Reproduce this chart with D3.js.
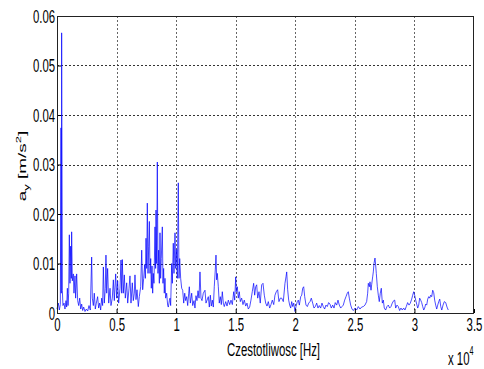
<!DOCTYPE html>
<html>
<head>
<meta charset="utf-8">
<script src="https://cdn.jsdelivr.net/npm/d3@7"></script>
<style>
  html, body { margin: 0; padding: 0; background: #fff; }
  svg { display: block; }
  text { font-family: "Liberation Sans", Arial, sans-serif; fill: #000; }
</style>
</head>
<body>
<script>
// spectrum: frequency [Hz] and amplitude a_y [m/s^2]
const freqHz = [
  0, 110, 195, 280, 335, 360, 390, 450, 500, 590, 670, 755, 810, 870, 925, 980, 1035, 1090, 1145, 1200,
  1230, 1285, 1370, 1425, 1510, 1565, 1650, 1735, 1820, 1905, 1990, 2070, 2155, 2240, 2350, 2460, 2575, 2685, 2795, 2910,
  2965, 3050, 3130, 3215, 3300, 3410, 3495, 3580, 3665, 3750, 3830, 3890, 3970, 4055, 4110, 4170, 4250, 4340, 4450, 4530,
  4640, 4730, 4810, 4925, 5010, 5090, 5175, 5290, 5370, 5430, 5480, 5565, 5650, 5735, 5850, 5935, 6045, 6125, 6210, 6320,
  6405, 6490, 6545, 6630, 6715, 6825, 6910, 7025, 7110, 7190, 7275, 7360, 7415, 7470, 7530, 7580, 7640, 7695, 7750, 7805,
  7865, 7915, 7975, 8030, 8080, 8140, 8225, 8280, 8310, 8365, 8420, 8475, 8530, 8590, 8645, 8700, 8755, 8840, 8895, 8950,
  9005, 9065, 9120, 9205, 9290, 9345, 9430, 9485, 9540, 9625, 9680, 9760, 9820, 9905, 9960, 10045, 10100, 10180, 10240, 10300,
  10380, 10465, 10550, 10635, 10720, 10800, 10885, 10970, 11055, 11105, 11190, 11305, 11390, 11500, 11580, 11665, 11750, 11835, 11920, 12000,
  12085, 12170, 12280, 12420, 12505, 12700, 12785, 12870, 12950, 13035, 13120, 13200, 13285, 13345, 13400, 13455, 13540, 13620, 13705, 13790,
  13875, 13960, 14040, 14160, 14270, 14380, 14495, 14605, 14715, 14830, 14915, 15000, 15050, 15135, 15215, 15300, 15385, 15500, 15610, 15720,
  15840, 15945, 16055, 16170, 16280, 16390, 16505, 16590, 16675, 16760, 16845, 16955, 17060, 17180, 17290, 17400, 17515, 17625, 17735, 17850,
  17960, 18070, 18190, 18295, 18405, 18520, 18630, 18740, 18860, 18995, 19135, 19220, 19280, 19360, 19445, 19530, 19615, 19700, 19785, 19870,
  19975, 20060, 20170, 20255, 20340, 20455, 20540, 20620, 20705, 20790, 20900, 21010, 21125, 21235, 21345, 21460, 21570, 21680, 21795, 21905,
  22015, 22130, 22240, 22350, 22465, 22575, 22685, 22800, 22910, 23020, 23140, 23250, 23355, 23475, 23585, 23695, 23810, 23920, 24030, 24145,
  24255, 24365, 24450, 24535, 24650, 24760, 24870, 25010, 25150, 25290, 25430, 25570, 25710, 25850, 25990, 26075, 26130, 26215, 26270, 26355,
  26410, 26495, 26550, 26605, 26690, 26745, 26800, 26885, 26970, 27050, 27135, 27220, 27305, 27390, 27470, 27585, 27695, 27805, 27920, 28030,
  28140, 28260, 28345, 28425, 28535, 28645, 28760, 28870, 28980, 29100, 29205, 29315, 29430, 29545, 29655, 29770, 29855, 29940, 30020, 30105,
  30190, 30275, 30360, 30440, 30525, 30610, 30695, 30780, 30860, 30945, 31030, 31115, 31200, 31280, 31365, 31450, 31535, 31620, 31700, 31785,
  31870, 31955, 32040, 32125, 32210, 32295, 32400, 32510, 32625, 32735, 32840
]
const accel = [
  0.0008, 0.0020, 0.0006, 0.0017, 0.0374, 0.0040, 0.0566, 0.0045, 0.0015, 0.0020, 0.0008, 0.0025, 0.0012, 0.0050, 0.0015, 0.0040, 0.0158, 0.0060, 0.0135, 0.0070,
  0.0164, 0.0065, 0.0079, 0.0040, 0.0075, 0.0030, 0.0079, 0.0025, 0.0015, 0.0030, 0.0008, 0.0018, 0.0005, 0.0012, 0.0003, 0.0008, 0.0004, 0.0015, 0.0006, 0.0113,
  0.0030, 0.0015, 0.0040, 0.0008, 0.0020, 0.0033, 0.0010, 0.0020, 0.0006, 0.0030, 0.0015, 0.0093, 0.0020, 0.0050, 0.0117, 0.0040, 0.0090, 0.0020, 0.0050, 0.0015,
  0.0030, 0.0067, 0.0025, 0.0079, 0.0030, 0.0065, 0.0020, 0.0050, 0.0107, 0.0040, 0.0108, 0.0040, 0.0077, 0.0030, 0.0061, 0.0020, 0.0050, 0.0075, 0.0020, 0.0061,
  0.0025, 0.0040, 0.0077, 0.0027, 0.0047, 0.0013, 0.0033, 0.0053, 0.0127, 0.0047, 0.0070, 0.0098, 0.0070, 0.0151, 0.0090, 0.0222, 0.0080, 0.0135, 0.0185, 0.0080,
  0.0110, 0.0050, 0.0095, 0.0040, 0.0080, 0.0060, 0.0174, 0.0090, 0.0208, 0.0100, 0.0305, 0.0080, 0.0127, 0.0060, 0.0162, 0.0070, 0.0110, 0.0174, 0.0060, 0.0090,
  0.0040, 0.0070, 0.0030, 0.0040, 0.0015, 0.0012, 0.0025, 0.0030, 0.0015, 0.0100, 0.0060, 0.0141, 0.0080, 0.0162, 0.0090, 0.0128, 0.0070, 0.0263, 0.0070, 0.0110,
  0.0070, 0.0050, 0.0046, 0.0020, 0.0040, 0.0025, 0.0033, 0.0015, 0.0040, 0.0053, 0.0020, 0.0040, 0.0015, 0.0025, 0.0010, 0.0035, 0.0025, 0.0045, 0.0030, 0.0083,
  0.0030, 0.0025, 0.0040, 0.0046, 0.0020, 0.0033, 0.0012, 0.0036, 0.0014, 0.0026, 0.0012, 0.0053, 0.0087, 0.0117, 0.0067, 0.0080, 0.0053, 0.0020, 0.0033, 0.0017,
  0.0043, 0.0020, 0.0013, 0.0023, 0.0014, 0.0026, 0.0017, 0.0026, 0.0017, 0.0043, 0.0026, 0.0073, 0.0043, 0.0053, 0.0030, 0.0043, 0.0023, 0.0030, 0.0017, 0.0026,
  0.0014, 0.0020, 0.0008, 0.0012, 0.0026, 0.0043, 0.0060, 0.0036, 0.0053, 0.0057, 0.0030, 0.0043, 0.0020, 0.0057, 0.0060, 0.0036, 0.0020, 0.0014, 0.0023, 0.0010,
  0.0017, 0.0026, 0.0017, 0.0036, 0.0043, 0.0047, 0.0023, 0.0030, 0.0030, 0.0023, 0.0060, 0.0073, 0.0083, 0.0047, 0.0026, 0.0016, 0.0010, 0.0023, 0.0013, 0.0020,
  0.0003, 0.0013, 0.0023, 0.0026, 0.0016, 0.0033, 0.0036, 0.0050, 0.0053, 0.0033, 0.0016, 0.0013, 0.0020, 0.0023, 0.0030, 0.0020, 0.0010, 0.0013, 0.0020, 0.0010,
  0.0015, 0.0010, 0.0020, 0.0013, 0.0008, 0.0016, 0.0013, 0.0021, 0.0018, 0.0010, 0.0016, 0.0010, 0.0021, 0.0016, 0.0026, 0.0016, 0.0010, 0.0013, 0.0016, 0.0026,
  0.0033, 0.0040, 0.0043, 0.0030, 0.0016, 0.0008, 0.0005, 0.0010, 0.0006, 0.0013, 0.0008, 0.0012, 0.0013, 0.0016, 0.0023, 0.0040, 0.0060, 0.0053, 0.0063, 0.0046,
  0.0057, 0.0073, 0.0083, 0.0100, 0.0111, 0.0097, 0.0080, 0.0053, 0.0036, 0.0023, 0.0040, 0.0050, 0.0020, 0.0026, 0.0010, 0.0006, 0.0013, 0.0016, 0.0010, 0.0013,
  0.0020, 0.0025, 0.0026, 0.0010, 0.0016, 0.0013, 0.0005, 0.0010, 0.0006, 0.0010, 0.0006, 0.0013, 0.0021, 0.0016, 0.0020, 0.0028, 0.0036, 0.0043, 0.0036, 0.0026,
  0.0018, 0.0010, 0.0016, 0.0030, 0.0026, 0.0021, 0.0013, 0.0006, 0.0010, 0.0018, 0.0016, 0.0028, 0.0033, 0.0030, 0.0036, 0.0033, 0.0046, 0.0041, 0.0026, 0.0016,
  0.0008, 0.0016, 0.0023, 0.0028, 0.0013, 0.0006, 0.0016, 0.0023, 0.0021, 0.0012, 0.0006
]
const xTicks = [0, 5000, 10000, 15000, 20000, 25000, 30000, 35000]
const yTicks = [0, 0.01, 0.02, 0.03, 0.04, 0.05, 0.06]

const width = 484
const height = 369
const margin = { left: 57, right: 10, top: 16, bottom: 56 }
const squeeze = 0.6   // the original figure text is narrow
const fontSize = 19

const svg = d3.select("body").append("svg")
    .attr("width", width)
    .attr("height", height)

svg.append("rect").attr("width", width).attr("height", height).attr("fill", "#fff")

const xScale = d3.scaleLinear()
    .domain([0, 35000])
    .range([margin.left, width - margin.right])

const yScale = d3.scaleLinear()
    .domain([0, 0.06])
    .range([height - margin.bottom, margin.top])

/* grid */
const grid = svg.append("g")
grid.selectAll(".vgrid")
    .data(xTicks.slice(1, -1))
    .enter()
    .append("line")
    .attr("x1", (d) => Math.round(xScale(d)) + 0.5)
    .attr("x2", (d) => Math.round(xScale(d)) + 0.5)
    .attr("y1", yScale(0.06))
    .attr("y2", yScale(0))
    .attr("stroke", "#666")
    .attr("stroke-dasharray", "2,2")

grid.selectAll(".hgrid")
    .data(yTicks.slice(1, -1))
    .enter()
    .append("line")
    .attr("x1", xScale(0))
    .attr("x2", xScale(35000))
    .attr("y1", (d) => Math.round(yScale(d)) + 0.5)
    .attr("y2", (d) => Math.round(yScale(d)) + 0.5)
    .attr("stroke", "#333")
    .attr("stroke-dasharray", "2,2")

/* spectrum */
const line = d3.line()
    .x((d, i) => xScale(freqHz[i]))
    .y((d) => yScale(d))

svg.append("path")
    .datum(accel)
    .attr("fill", "none")
    .attr("stroke", "#0000ff")
    .attr("stroke-width", 0.7)
    .attr("stroke-linejoin", "round")
    .attr("d", line)

/* axes */
const xAxis = d3.axisBottom(xScale)
    .tickValues(xTicks)
    .tickSizeInner(-4)
    .tickSizeOuter(0)
    .tickFormat((d) => d3.format("")(d / 10000))

const gx = svg.append("g")
    .attr("transform", `translate(0, ${yScale(0)})`)
    .call(xAxis)
gx.select(".domain").remove()
gx.selectAll("line").attr("stroke", "#000")
gx.selectAll("text")
    .attr("y", 5)
    .attr("font-size", fontSize)
    .attr("transform", `scale(${squeeze},1)`)

const yAxis = d3.axisLeft(yScale)
    .tickValues(yTicks)
    .tickSizeInner(-4)
    .tickSizeOuter(0)
    .tickFormat((d) => d3.format("")(d))

const gy = svg.append("g")
    .attr("transform", `translate(${xScale(0)}, 0)`)
    .call(yAxis)
gy.select(".domain").remove()
gy.selectAll("line").attr("stroke", "#000")
gy.selectAll("text")
    .attr("x", -3)
    .attr("font-size", fontSize)
    .attr("transform", `scale(${squeeze},1)`)

/* frame */
svg.append("rect")
    .attr("x", xScale(0) + 0.5)
    .attr("y", yScale(0.06) + 0.5)
    .attr("width", xScale(35000) - xScale(0) - 1)
    .attr("height", yScale(0) - yScale(0.06))
    .attr("fill", "none")
    .attr("stroke", "#222")

/* labels */
svg.append("text")
    .attr("transform", `translate(${(xScale(0) + xScale(35000)) / 2 + 8}, 356) scale(${squeeze},1)`)
    .attr("text-anchor", "middle")
    .attr("font-size", fontSize)
    .text("Czestotliwosc [Hz]")

const expo = svg.append("text")
    .attr("transform", `translate(448, 365) scale(${squeeze},1)`)
    .attr("font-size", fontSize)
expo.append("tspan").text("x 10")
expo.append("tspan").attr("dy", -10).attr("font-size", 12).text("4")

const ylab = svg.append("text")
    .attr("transform", `translate(26, 166) scale(${squeeze},1) rotate(-90)`)
    .attr("text-anchor", "middle")
    .attr("font-size", 19)
ylab.append("tspan").text("a")
ylab.append("tspan").attr("dy", 5).attr("font-size", 13).text("y")
ylab.append("tspan").attr("dy", -5).text(" [m/s")
ylab.append("tspan").attr("dy", -8).attr("font-size", 13).text("2")
ylab.append("tspan").attr("dy", 8).text("]")
</script>
</body>
</html>
